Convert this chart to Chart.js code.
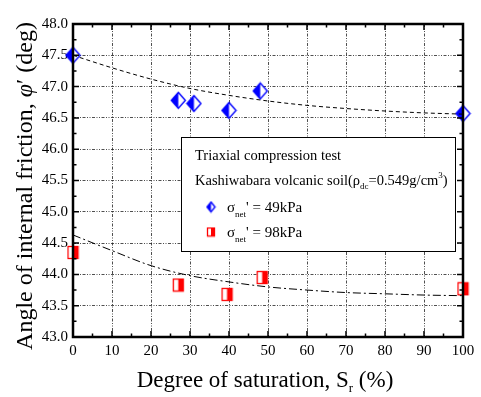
<!DOCTYPE html>
<html>
<head>
<meta charset="utf-8">
<script src="https://cdn.jsdelivr.net/npm/chart.js@4.4.0/dist/chart.umd.min.js"></script>
<style>
  html, body { margin: 0; padding: 0; background: #fff; }
  #wrap { width: 481px; height: 397px; }
</style>
</head>
<body>
<div id="wrap"><canvas id="chart" width="481" height="397"></canvas></div>
<script>
// ── Data ─────────────────────────────────────────────────
const SR_49      = [0, 27, 31, 40, 48, 100];
const PHI_49     = [47.5, 46.78, 46.73, 46.62, 46.93, 46.57];
const SR_98      = [0, 27, 39.5, 48.5, 100];
const PHI_98     = [44.35, 43.83, 43.68, 43.95, 43.77];

// fitted trend curves (read at every 10 %)
const FIT_SR     = [0, 10, 20, 30, 40, 50, 60, 70, 80, 90, 100];
const FIT_49     = [47.5, 47.3, 47.12, 46.97, 46.86, 46.77, 46.70, 46.65, 46.61, 46.58, 46.56];
const FIT_98     = [44.63, 44.38, 44.14, 43.98, 43.88, 43.80, 43.75, 43.71, 43.69, 43.67, 43.66];

const X_TICKS    = [0, 10, 20, 30, 40, 50, 60, 70, 80, 90, 100];
const Y_TICKS    = [43.0, 43.5, 44.0, 44.5, 45.0, 45.5, 46.0, 46.5, 47.0, 47.5, 48.0];

const FONT = "'Liberation Serif', 'DejaVu Serif', serif";
const BLUE = '#0000ff';
const RED  = '#ff0000';

// ── Marker images ────────────────────────────────────────
function halfDiamond(w, h) {
  const c = document.createElement('canvas');
  c.width = w + 3; c.height = h + 3;
  const g = c.getContext('2d');
  const cx = c.width / 2, cy = c.height / 2;
  const pts = [[cx, cy - h / 2], [cx + w / 2, cy], [cx, cy + h / 2], [cx - w / 2, cy]];
  g.beginPath();
  pts.forEach((p, i) => i ? g.lineTo(p[0], p[1]) : g.moveTo(p[0], p[1]));
  g.closePath();
  g.fillStyle = '#fff'; g.fill();
  // left half solid
  g.beginPath();
  g.moveTo(pts[0][0], pts[0][1]); g.lineTo(pts[2][0], pts[2][1]); g.lineTo(pts[3][0], pts[3][1]);
  g.closePath();
  g.fillStyle = BLUE; g.fill();
  g.beginPath();
  pts.forEach((p, i) => i ? g.lineTo(p[0], p[1]) : g.moveTo(p[0], p[1]));
  g.closePath();
  g.strokeStyle = BLUE; g.lineWidth = 1.4; g.stroke();
  return c;
}
function halfSquare(w, h) {
  const c = document.createElement('canvas');
  c.width = w + 3; c.height = h + 3;
  const g = c.getContext('2d');
  const x0 = 1.5, y0 = 1.5;
  g.fillStyle = '#fff'; g.fillRect(x0, y0, w, h);
  g.fillStyle = RED; g.fillRect(x0 + w / 2, y0, w / 2, h);
  g.strokeStyle = RED; g.lineWidth = 1.3; g.strokeRect(x0, y0, w, h);
  return c;
}
const DIAMOND     = halfDiamond(14, 16);
const SQUARE      = halfSquare(10, 12);
const DIAMOND_SM  = halfDiamond(8, 10);
const SQUARE_SM   = halfSquare(7, 8);

// ── Rich text helper (sub/superscripts, italics) ─────────
function drawRich(ctx, x, y, parts, align) {
  let total = 0;
  parts.forEach(p => { ctx.font = p.font; total += ctx.measureText(p.t).width; });
  let cx = align === 'center' ? x - total / 2 : x;
  parts.forEach(p => {
    ctx.font = p.font;
    ctx.fillText(p.t, cx, y + (p.dy || 0));
    cx += ctx.measureText(p.t).width;
  });
}

// ── Decorations: frame, ticks, legend box, axis titles ───
const decorPlugin = {
  id: 'decor',
  afterDatasetsDraw(chart) {
    const { ctx, chartArea: a, scales: { x, y } } = chart;
    ctx.save();
    ctx.strokeStyle = '#000';
    ctx.lineWidth = 1.5;
    // ticks on all four sides
    for (let v = 0; v <= 100; v += 5) {
      const px = x.getPixelForValue(v);
      const len = v % 10 === 0 ? 6 : 3.5;
      ctx.beginPath();
      ctx.moveTo(px, a.bottom); ctx.lineTo(px, a.bottom - len);
      ctx.moveTo(px, a.top);    ctx.lineTo(px, a.top + len);
      ctx.stroke();
    }
    for (let v = 43; v <= 48.001; v += 0.25) {
      const py = y.getPixelForValue(v);
      const len = Math.abs(v * 2 - Math.round(v * 2)) < 1e-6 ? 6 : 3.5;
      ctx.beginPath();
      ctx.moveTo(a.left, py);  ctx.lineTo(a.left + len, py);
      ctx.moveTo(a.right, py); ctx.lineTo(a.right - len, py);
      ctx.stroke();
    }
    // frame
    ctx.lineWidth = 2.5;
    ctx.strokeRect(a.left, a.top, a.right - a.left, a.bottom - a.top);

    // legend box
    const bx = 181, by = 137, bw = 274, bh = 114;
    ctx.fillStyle = '#fff';
    ctx.fillRect(bx, by, bw, bh);
    ctx.lineWidth = 1;
    ctx.strokeRect(bx + 0.5, by + 0.5, bw, bh);

    ctx.fillStyle = '#000';
    ctx.textBaseline = 'alphabetic';
    ctx.textAlign = 'left';
    const f14 = '14.5px ' + FONT, f9 = '9px ' + FONT, f15 = '15px ' + FONT;
    drawRich(ctx, 195, 160, [{ t: 'Triaxial compression test', font: f14 }]);
    drawRich(ctx, 195, 185, [
      { t: 'Kashiwabara volcanic soil(ρ', font: f14 },
      { t: 'dc', font: f9, dy: 4 },
      { t: '=0.549g/cm', font: f14 },
      { t: '3', font: f9, dy: -7 },
      { t: ')', font: f14 }
    ]);
    ctx.drawImage(DIAMOND_SM, 211 - DIAMOND_SM.width / 2, 207 - DIAMOND_SM.height / 2);
    ctx.drawImage(SQUARE_SM, 211 - SQUARE_SM.width / 2, 232 - SQUARE_SM.height / 2);
    drawRich(ctx, 227, 212, [
      { t: 'σ', font: f15 }, { t: 'net', font: f9, dy: 5 }, { t: "' = 49kPa", font: f15 }
    ]);
    drawRich(ctx, 227, 237, [
      { t: 'σ', font: f15 }, { t: 'net', font: f9, dy: 5 }, { t: "' = 98kPa", font: f15 }
    ]);
    ctx.restore();
  },
  afterDraw(chart) {
    const { ctx } = chart;
    ctx.save();
    ctx.fillStyle = '#000';
    ctx.textBaseline = 'alphabetic';
    const f23 = '23px ' + FONT, f13 = '13px ' + FONT;
    // x title
    drawRich(ctx, 265, 387, [
      { t: 'Degree of saturation, S', font: f23 },
      { t: 'r', font: f13, dy: 5 },
      { t: ' (%)', font: f23 }
    ], 'center');
    // y title
    const f24 = '24px ' + FONT, f24i = 'italic 24px ' + FONT;
    ctx.translate(32, 186);
    ctx.rotate(-Math.PI / 2);
    drawRich(ctx, 0, 0, [
      { t: 'Angle of internal friction, ', font: f24 },
      { t: 'φ', font: f24i },
      { t: '′ (deg)', font: f24 }
    ], 'center');
    ctx.restore();
  }
};

const toXY = (xs, ys) => xs.map((v, i) => ({ x: v, y: ys[i] }));
const innerGrid = (c) => (c.index === 0 || c.index === c.scale.ticks.length - 1) ? 'rgba(0,0,0,0)' : '#222';

new Chart(document.getElementById('chart'), {
  type: 'scatter',
  data: {
    datasets: [
      {
        type: 'line', data: toXY(FIT_SR, FIT_49),
        borderColor: '#000', borderWidth: 1, borderDash: [4, 3],
        pointRadius: 0, cubicInterpolationMode: 'monotone', fill: false
      },
      {
        type: 'line', data: toXY(FIT_SR, FIT_98),
        borderColor: '#000', borderWidth: 1, borderDash: [8, 3, 2, 3],
        pointRadius: 0, cubicInterpolationMode: 'monotone', fill: false
      },
      { data: toXY(SR_49, PHI_49), pointStyle: DIAMOND, clip: false },
      { data: toXY(SR_98, PHI_98), pointStyle: SQUARE, clip: false }
    ]
  },
  options: {
    responsive: false,
    animation: false,
    events: [],
    layout: { padding: { top: 24, right: 18, left: 0, bottom: 0 } },
    plugins: { legend: { display: false }, tooltip: { enabled: false } },
    scales: {
      x: {
        type: 'linear', min: 0, max: 100,
        afterBuildTicks: (s) => { s.ticks = X_TICKS.map(v => ({ value: v })); },
        afterFit: (s) => { s.height = 60; },
        grid: { color: innerGrid, lineWidth: 0.8, drawTicks: false },
        border: { display: false, dash: [3, 1.5, 1, 1.5, 1, 1.5] },
        ticks: { color: '#000', padding: 5, maxRotation: 0, font: { family: FONT, size: 15 } }
      },
      y: {
        type: 'linear', min: 43, max: 48,
        afterBuildTicks: (s) => { s.ticks = Y_TICKS.map(v => ({ value: v })); },
        afterFit: (s) => { s.width = 73; },
        grid: { color: innerGrid, lineWidth: 0.8, drawTicks: false },
        border: { display: false, dash: [3, 1.5, 1, 1.5, 1, 1.5] },
        ticks: { color: '#000', padding: 5, font: { family: FONT, size: 15 }, callback: (v) => Number(v).toFixed(1) }
      }
    }
  },
  plugins: [decorPlugin]
});
</script>
</body>
</html>
